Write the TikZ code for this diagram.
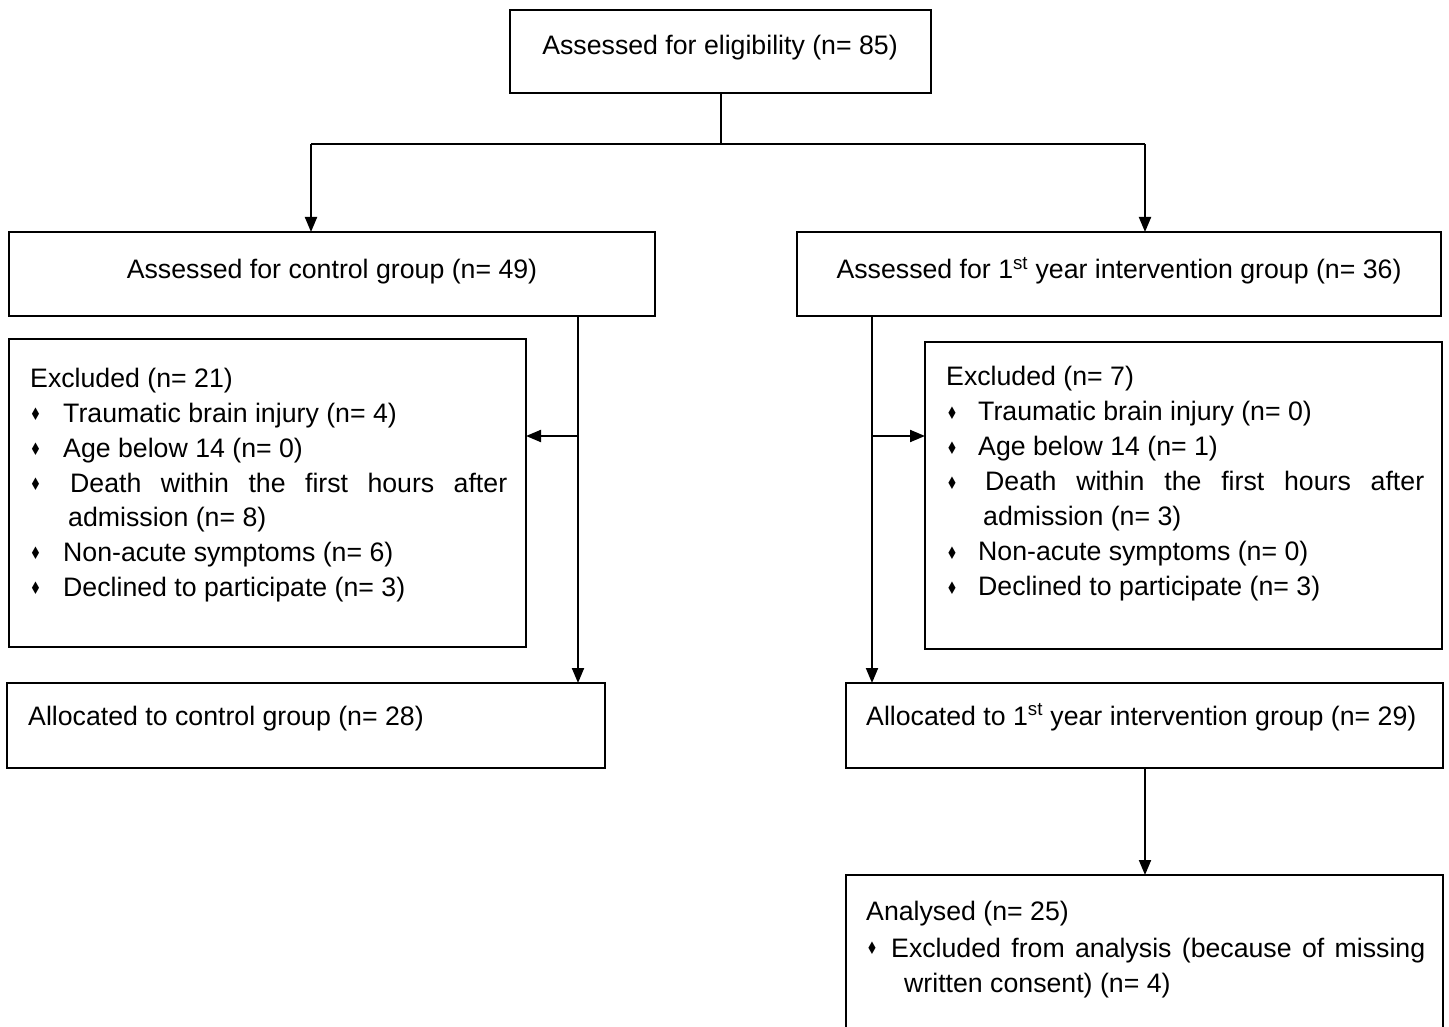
\documentclass[tikz,border=0pt]{standalone}
\usepackage{fontspec}
\usepackage{graphicx}
\setmainfont{Liberation Sans}
\newfontfamily\bulfont{DejaVu Sans}
\usetikzlibrary{arrows.meta}
\newcommand{\bulglyph}{\scalebox{0.85}[1.15]{\bulfont\fontsize{15}{15}\selectfont ♦}}
\begin{document}
\begin{tikzpicture}[x=1pt,y=-1pt,
  box/.style={draw, line width=2pt, rectangle, inner sep=0pt, outer sep=0pt, anchor=north west},
  txt/.style={anchor=base west, inner sep=0pt, font=\fontsize{26.7}{35}\selectfont},
  ctxt/.style={anchor=base, inner sep=0pt, font=\fontsize{26.7}{35}\selectfont},
  bul/.style={anchor=center, inner sep=0pt},
  conn/.style={line width=2pt},
  arr/.style={conn, -{Triangle[length=15pt,width=12pt]}}]
\useasboundingbox (0,0) rectangle (1449,1027);

% boxes
\node[box, minimum width=421pt, minimum height=83pt] (top) at (510,10) {};
\node[box, minimum width=646pt, minimum height=84pt] (ctrl) at (9,232) {};
\node[box, minimum width=644pt, minimum height=84pt] (intv) at (797,232) {};
\node[box, minimum width=517pt, minimum height=308pt] (exL) at (9,339) {};
\node[box, minimum width=517pt, minimum height=307pt] (exR) at (925,342) {};
\node[box, minimum width=598pt, minimum height=85pt] (allocC) at (7,683) {};
\node[box, minimum width=597pt, minimum height=85pt] (allocI) at (846,683) {};
\node[box, minimum width=597pt, minimum height=170pt] (anal) at (846,875) {};

% texts
\node[ctxt] (tTop) at (720,55) {Assessed for eligibility (n= 85)};
\node[ctxt] (tCtrl) at (332,279) {Assessed for control group (n= 49)};
\node[ctxt] (tIntv) at (1119,279) {Assessed for 1\textsuperscript{st} year intervention group (n= 36)};

\node[txt] (l0) at (30,387) {Excluded (n= 21)};
\node[bul] (lb1) at (35.5,414) {\bulglyph};
\node[txt] (l1) at (63,422) {Traumatic brain injury (n= 4)};
\node[bul] (lb2) at (35.5,449) {\bulglyph};
\node[txt] (l2) at (63,457) {Age below 14 (n= 0)};
\node[bul] (lb3) at (35.5,484) {\bulglyph};
\node[txt] (l3) at (70,492) {\makebox[437pt][s]{Death within the first hours after}};
\node[txt] (l3b) at (68,526) {admission (n= 8)};
\node[bul] (lb4) at (35.5,553) {\bulglyph};
\node[txt] (l4) at (63,561) {Non-acute symptoms (n= 6)};
\node[bul] (lb5) at (35.5,588) {\bulglyph};
\node[txt] (l5) at (63,596) {Declined to participate (n= 3)};

\node[txt] (r0) at (946,385) {Excluded (n= 7)};
\node[bul] (rb1) at (952,413) {\bulglyph};
\node[txt] (r1) at (978,420) {Traumatic brain injury (n= 0)};
\node[bul] (rb2) at (952,448) {\bulglyph};
\node[txt] (r2) at (978,455) {Age below 14 (n= 1)};
\node[bul] (rb3) at (952,483) {\bulglyph};
\node[txt] (r3) at (985,490) {\makebox[439pt][s]{Death within the first hours after}};
\node[txt] (r3b) at (983,525) {admission (n= 3)};
\node[bul] (rb4) at (952,553) {\bulglyph};
\node[txt] (r4) at (978,560) {Non-acute symptoms (n= 0)};
\node[bul] (rb5) at (952,588) {\bulglyph};
\node[txt] (r5) at (978,595) {Declined to participate (n= 3)};

\node[txt] (tAllocC) at (28,725) {Allocated to control group (n= 28)};
\node[txt] (tAllocI) at (866,725) {Allocated to 1\textsuperscript{st} year intervention group (n= 29)};

\node[txt] (a0) at (866,920) {Analysed (n= 25)};
\node[bul] (ab1) at (872,948) {\bulglyph};
\node[txt] (a1) at (891,957) {\makebox[534pt][s]{Excluded from analysis (because of missing}};
\node[txt] (a1b) at (904,992) {written consent) (n= 4)};

% connectors
\coordinate (jL) at (311,144);
\coordinate (jR) at (1145,144);
\draw[conn] (top.south) -- (top.south |- jL);
\draw[conn] (jL) -- (jR);
\draw[arr] (jL) -- (ctrl.north -| jL);
\draw[arr] (jR) -- (intv.north -| jR);
\coordinate (cL) at (578,0);
\coordinate (bL) at (578,436);
\draw[arr] (ctrl.south -| cL) -- (allocC.north -| cL);
\draw[arr] (bL) -- (exL.east |- bL);
\coordinate (cR) at (872,0);
\coordinate (bR) at (872,436);
\draw[arr] (intv.south -| cR) -- (allocI.north -| cR);
\draw[arr] (bR) -- (exR.west |- bR);
\draw[arr] (allocI.south -| jR) -- (anal.north -| jR);
\end{tikzpicture}
\end{document}
